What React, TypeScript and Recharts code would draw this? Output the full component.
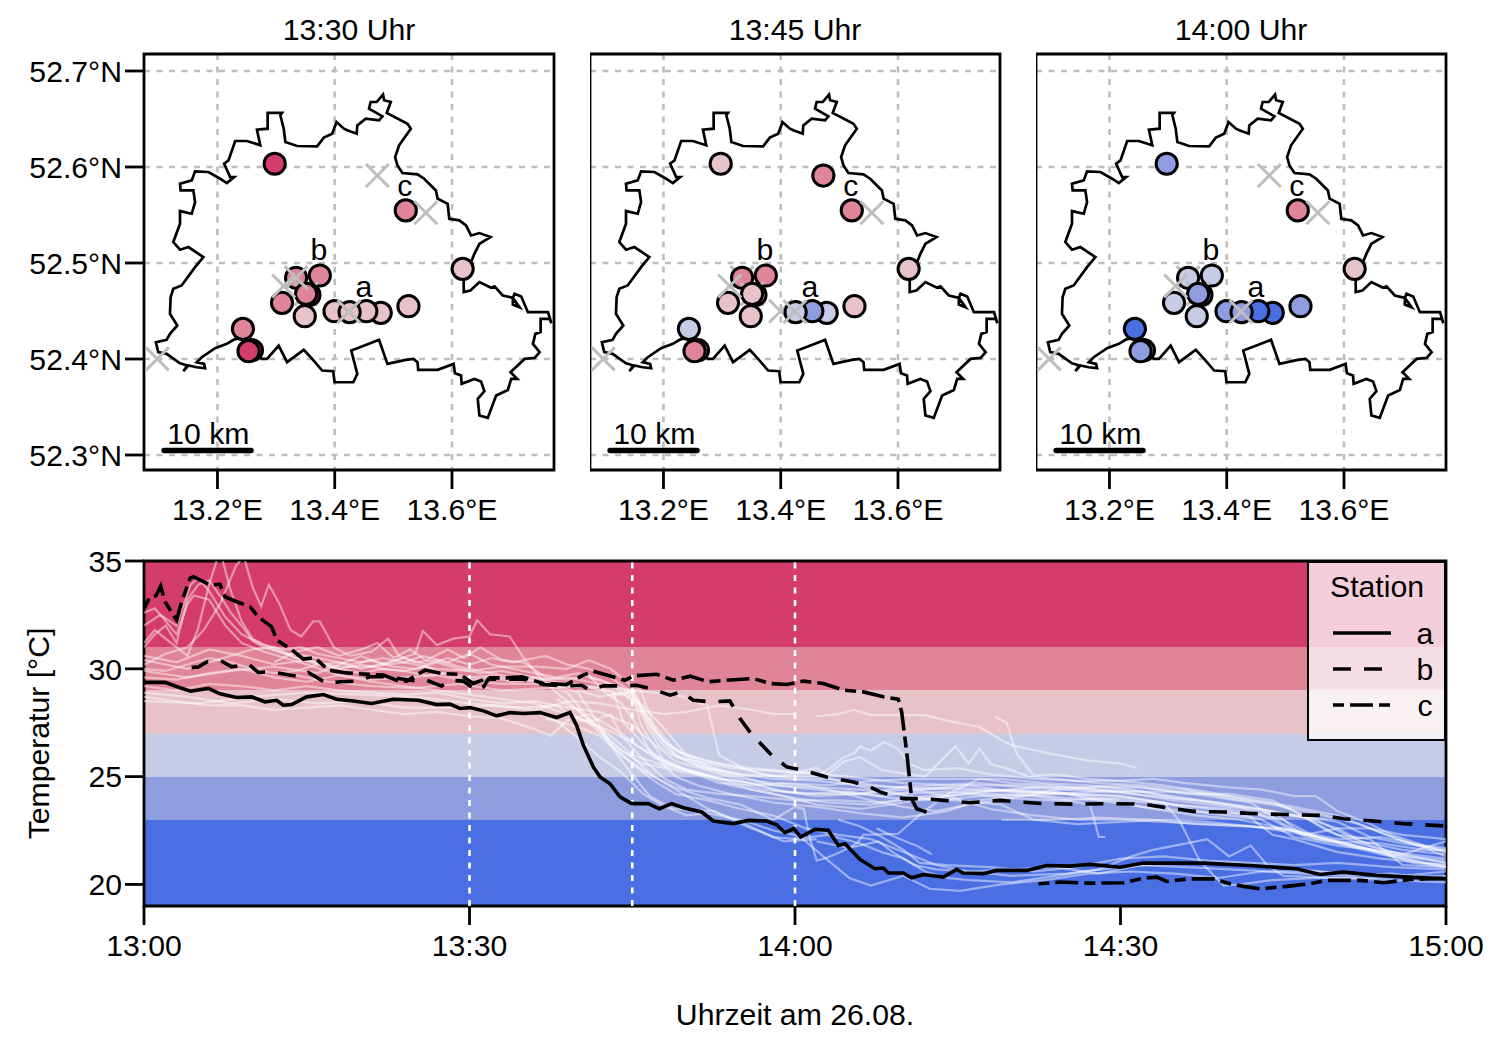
import React from "react"
import {
  CartesianGrid,
  ComposedChart,
  Legend,
  Line,
  ReferenceArea,
  ReferenceLine,
  Scatter,
  ScatterChart,
  XAxis,
  YAxis,
} from "recharts"

const fontFamily = '"Liberation Sans", Arial, sans-serif'
const fontSize = 30.2

// Temperature classes shown as background bands and used for station fill
const bands = [
  { from: 31, to: 35, color: "#D43D6B" },
  { from: 29, to: 31, color: "#E08497" },
  { from: 27, to: 29, color: "#E7C3C9" },
  { from: 25, to: 27, color: "#C7CCE6" },
  { from: 23, to: 25, color: "#8E9CE0" },
  { from: 19, to: 23, color: "#4A6FE3" },
]

const lonTicks = [13.2, 13.4, 13.6]
const latTicks = [52.3, 52.4, 52.5, 52.6, 52.7]
const lonDomain = [13.0747, 13.774]
const latDomain = [52.2844, 52.7177]

const borderLon = [
  13.1418, 13.1504, 13.1646, 13.1789, 13.1772, 13.1646, 13.1732, 13.196, 13.216, 13.2274, 13.2388, 13.2559, 13.2759,
  13.2844, 13.3044, 13.3187, 13.3472, 13.3615, 13.3786, 13.3974, 13.3997, 13.4317, 13.4385, 13.4282, 13.4585, 13.4756,
  13.4899, 13.5212, 13.5344, 13.5412, 13.5424, 13.5755, 13.6028, 13.6051, 13.6154, 13.6165, 13.6382, 13.6496, 13.6553,
  13.6439, 13.6468, 13.661, 13.6753, 13.6953, 13.701, 13.7113, 13.6998, 13.7238, 13.7409, 13.7495, 13.7381, 13.7421,
  13.7512, 13.7512, 13.7666, 13.7695, 13.7638, 13.7295, 13.7181, 13.7067, 13.7038, 13.7152, 13.7038, 13.7038, 13.6867,
  13.6725, 13.6667, 13.6468, 13.6314, 13.62, 13.62, 13.6382, 13.6468, 13.6656, 13.6468, 13.6325, 13.624, 13.6125,
  13.5954, 13.5926, 13.5755, 13.5726, 13.5526, 13.5412, 13.5155, 13.507, 13.503, 13.5098, 13.5298, 13.5241, 13.4887,
  13.4956, 13.4842, 13.4824, 13.4716, 13.4613, 13.4585, 13.4813, 13.4756, 13.4528, 13.4385, 13.4374, 13.4214, 13.4157,
  13.4031, 13.3957, 13.3814, 13.37, 13.3358, 13.3158, 13.313, 13.3073, 13.3101, 13.2856, 13.2856, 13.2673, 13.273,
  13.2502, 13.2302, 13.2188, 13.2114, 13.2217, 13.2285, 13.216, 13.2046, 13.1846, 13.1618, 13.1561, 13.1361, 13.1372,
  13.1589, 13.1618, 13.1561, 13.1361, 13.1361, 13.1247, 13.1361, 13.1504, 13.176, 13.1618, 13.1389, 13.1247, 13.1201,
  13.119, 13.1315, 13.119, 13.1133, 13.095, 13.099, 13.1133, 13.1361, 13.1486, 13.1418,
]
const borderLat = [
  52.3873, 52.3932, 52.3914, 52.3904, 52.3949, 52.3967, 52.4019, 52.4113, 52.4158, 52.42, 52.422, 52.4088, 52.4001,
  52.4001, 52.414, 52.3967, 52.4095, 52.4001, 52.388, 52.3873, 52.3758, 52.3758, 52.3845, 52.4088, 52.4158, 52.42,
  52.3949, 52.3991, 52.4001, 52.3967, 52.3887, 52.3887, 52.3949, 52.3852, 52.3828, 52.3741, 52.3793, 52.3765, 52.3665,
  52.3585, 52.3411, 52.3387, 52.3619, 52.3678, 52.3793, 52.3793, 52.3863, 52.4001, 52.4012, 52.4071, 52.4158, 52.4262,
  52.428, 52.4419, 52.4419, 52.4373, 52.4488, 52.4488, 52.4651, 52.4679, 52.4637, 52.454, 52.4568, 52.4637, 52.4662,
  52.4756, 52.4742, 52.4801, 52.4714, 52.4697, 52.4818, 52.5096, 52.52, 52.527, 52.5312, 52.5287, 52.5392, 52.5444,
  52.5461, 52.5617, 52.567, 52.5756, 52.5878, 52.5923, 52.5937, 52.6017, 52.6104, 52.6226, 52.6399, 52.6451, 52.6563,
  52.6677, 52.6695, 52.6754, 52.6677, 52.6677, 52.6608, 52.6528, 52.6486, 52.6504, 52.6434, 52.6347, 52.6382, 52.6399,
  52.6469, 52.6347, 52.6306, 52.6215, 52.6219, 52.626, 52.6399, 52.6538, 52.6563, 52.6563, 52.6399, 52.6389, 52.6226,
  52.6271, 52.6271, 52.6069, 52.6034, 52.5895, 52.5895, 52.5833, 52.5878, 52.5948, 52.5955, 52.5861, 52.5826, 52.5756,
  52.5756, 52.5635, 52.5513, 52.5541, 52.5409, 52.5218, 52.5138, 52.5166, 52.5061, 52.4957, 52.4766, 52.4731, 52.4644,
  52.4471, 52.4349, 52.4262, 52.42, 52.4175, 52.4071, 52.4054, 52.3956, 52.3932, 52.3873,
]

// Stations in drawing order. null = no reading (grey cross), undefined = not drawn in that panel
const __ = undefined
const stationLon = [
  13.2976, 13.4727, 13.5212, 13.5555, 13.6182, 13.0973, 13.3341, 13.3341, 13.3746, 13.3512, 13.3569, 13.3512, 13.3101,
  13.3489, 13.4785, 13.4539, 13.3997, 13.4254, 13.4242, 13.5258, 13.2434, 13.2588, 13.253, 13.313, 13.3341,
]
const stationLat = [
  52.6034, 52.5911, 52.5548, 52.5523, 52.4939, 52.4001, 52.4848, 52.4846, 52.487, 52.4679, 52.4668, 52.4679, 52.4585,
  52.4446, 52.4481, 52.4498, 52.4498, 52.4488, 52.4494, 52.455, 52.4314, 52.4092, 52.4082, 52.4761, 52.4848,
]
const temps1330 = [32, null, 30, null, 28, null, __, 30, 30, null, 32, 30, 30, 28, 28, 28, 28, 28, null, 28, 30, 32, 32, null, null]
const temps1345 = [28, 30, 30, null, 28, null, null, 30, 30, null, 28, 28, 28, 28, 26, 24, null, 26, null, 28, 26, 30, 30, null, __]
const temps1400 = [24, null, 30, null, 28, null, null, 26, 26, null, 24, 24, 26, 26, 21, 21, 24, 24, null, 24, 21, 24, 24, null, __]

const stationLetters = ["a", "b", "c"]
const letterLon = [13.4498, 13.3731, 13.5197]
const letterLat = [52.4756, 52.5142, 52.5808]

const scaleLon = [13.109, 13.2572]
const scaleLat = [52.3046, 52.3046]
const scaleLabel = "10 km"
const scaleLabelLon = 13.1846
const scaleLabelLat = 52.3219

const timeTicks = [0, 30, 60, 90, 120]
const tempTicks = [20, 25, 30, 35]
const mapTimes = [30, 45, 60]

const stationA = [
  [0, 29.37], [1.94, 29.37], [3.32, 29.12], [4.3, 28.96], [5.93, 29.09], [7, 28.84], [8.54, 28.67], [9.92, 28.7], [11.15, 28.47],
  [12.23, 28.54], [12.84, 28.31], [13.61, 28.34], [14.99, 28.7], [16.53, 28.81], [17.76, 28.59], [19.29, 28.51], [20.98, 28.39],
  [22.98, 28.59], [25.28, 28.54], [26.97, 28.34], [28.2, 28.36], [29.12, 28.16], [30.05, 28.2], [31.28, 28.05], [32.5, 27.82],
  [33.73, 27.97], [34.96, 27.93], [36.5, 27.97], [38.03, 27.74], [39.26, 27.97], [39.87, 27.38], [40.49, 26.46], [41.41, 25.45],
  [42.03, 24.98], [42.95, 24.67], [43.87, 24.06], [44.94, 23.75], [46.48, 23.75], [47.49, 23.51], [48.63, 23.75], [49.71, 23.56],
  [51.4, 23.36], [52.47, 22.94], [54.31, 22.82], [55.7, 22.97], [57.39, 22.94], [58.31, 22.77], [59.08, 22.4], [59.9, 22.59],
  [60.52, 22.2], [61.84, 22.55], [63.07, 22.51], [63.99, 21.81], [64.61, 21.89], [65.99, 21.16], [67.37, 20.73], [68.14, 20.76],
  [68.6, 20.53], [69.98, 20.53], [70.75, 20.31], [71.83, 20.46], [73.67, 20.34], [74.9, 20.7], [75.51, 20.53], [77.36, 20.5],
  [78.58, 20.65], [81.36, 20.65], [83.2, 20.88], [85.35, 20.85], [87.2, 20.93], [89.96, 20.8], [92.1, 20.99], [97.64, 20.99],
  [101.94, 20.88], [106.24, 20.73], [108.39, 20.46], [110.54, 20.57], [113.6, 20.42], [116.7, 20.34], [120, 20.26],
]
const stationB = [
  [4.39, 30.06], [5.01, 30.09], [5.84, 30.33], [7, 30.4], [8.08, 30.09], [9.62, 30.22], [10.54, 29.83], [11.61, 29.86], [13.15, 29.74],
  [14.38, 29.63], [15.15, 29.83], [16.84, 29.32], [18.07, 29.4], [19.6, 29.43], [20.83, 29.63], [22.37, 29.63], [25.13, 29.43],
  [26.05, 29.47], [27.43, 29.2], [28.2, 29.47], [29.43, 29.43], [30.66, 28.98], [31.28, 29.16], [31.74, 29.52], [34.96, 29.52],
  [36.8, 29.27], [38.95, 29.21], [40.33, 29.24], [41.1, 29.01], [42.33, 29.21], [44.48, 29.21], [45.4, 29.24], [46.94, 29.04],
  [48.48, 28.78], [49.55, 28.93], [50.63, 28.54], [52.16, 28.47], [54, 28.51], [54.93, 27.69], [55.85, 27.07], [57.69, 26.07],
  [59.23, 25.45], [60.77, 25.29], [62.92, 24.98], [65.37, 24.75], [66.91, 24.52], [67.98, 24.26], [69.98, 23.98], [71.83, 23.98],
  [73.67, 23.9], [76.13, 23.79], [78.89, 23.9], [80.73, 23.82], [82.89, 23.75], [85.96, 23.72], [89.04, 23.75], [92.11, 23.72],
  [94.26, 23.56], [96.72, 23.39], [99.48, 23.36], [102.55, 23.28], [105.32, 23.24], [108.7, 23.2], [110.54, 23.05], [113.6, 22.93],
  [116.07, 22.82], [120, 22.71],
]
const stationC = [
  [0, 32.8], [0.55, 33.34], [1.11, 33.39], [1.54, 33.84], [1.94, 33.11], [3.01, 32.26], [3.47, 33.11], [4.24, 34.2], [4.55, 34.27],
  [6.08, 33.89], [7, 33.92], [7.47, 33.34], [8.54, 33.11], [9.77, 32.88], [10.54, 32.41], [11.77, 31.95], [12.23, 31.33], [13.46, 30.94],
  [14.69, 30.45], [15.76, 30.51], [16.99, 29.94], [18.68, 29.81], [20.83, 29.74], [22.06, 29.71], [23.29, 29.47], [24.21, 29.43],
  [25.9, 29.94], [27.43, 29.78], [29.12, 29.74], [30.35, 29.32], [31.74, 29.58], [33.43, 29.58], [34.81, 29.63], [36.8, 29.32],
  [38.95, 29.27], [40.33, 29.67], [41.41, 29.89], [42.95, 29.67], [44.33, 29.47], [45.1, 29.67], [47.25, 29.75], [48.78, 29.47],
  [50.32, 29.66], [52.01, 29.4], [53.7, 29.47], [56.16, 29.55], [57.69, 29.32], [59.23, 29.27], [60.77, 29.43], [62.61, 29.32],
  [64.45, 29.01], [66.3, 28.93], [68.14, 28.7], [69.52, 28.59], [69.83, 28], [70.29, 26.15], [70.75, 23.98], [71.21, 23.51], [72.13, 23.36],
  [77, null],
  [82.43, 20.03], [84.43, 20.11], [87.2, 20.06], [90.27, 20.08], [92.1, 20.29], [93.34, 20.34], [94.26, 20.14], [96.41, 20.26],
  [98.56, 20.26], [100.1, 20.03], [101.33, 19.91], [102.86, 19.8], [105.32, 19.91], [107.47, 20.03], [109, 20.19], [112.08, 20.19],
  [114.23, 20.08], [116.69, 20.23], [120, 20.29],
]

const pale01 = [[0,31.0],[1,31.6],[2,32.0],[3,31.2],[4,33.2],[5,33.9],[6,34.1],[7,33.4],[8,32.6],[9,32.0],[10,31.3],[11,31.0],[13,30.7],[15,30.6],[17,30.4],[19,30.2],[21,30.4],[23,30.1],[25,30.0],[27,30.3],[29,30.0],[31,29.8],[33,29.9],[35,29.7],[37,29.5],[39,29.6],[41,29.4],[43,29.2],[45,29.0],[46,27.9],[47,27.0],[48,26.4],[49,26.0],[50,25.7],[52,25.4],[55,25.1],[58,24.9],[62,24.8],[66,24.6],[70,24.5],[75,24.4],[80,24.3],[85,24.2],[90,24.1],[95,23.7],[100,23.4],[103,23.0],[106,22.2],[110,21.8],[115,21.5],[120,21.2]]
const pale02 = [[0,31.2],[1,31.8],[2,31.4],[3,31.0],[4,30.6],[5,31.9],[6,33.9],[7,35.5],[8,33.6],[9,32.2],[10,31.4],[12,30.9],[14,30.5],[16,30.3],[18,30.0],[20,30.2],[22,30.0],[24,29.9],[26,30.1],[28,29.7],[30,29.5],[32,29.6],[34,29.4],[36,29.5],[38,29.2],[40,28.9],[42,27.4],[43,26.5],[45,25.6],[47,24.8],[49,24.2],[52,23.9],[55,23.5],[58,23.2],[61,22.6],[64,22.3],[67,22.1],[70,21.5],[73,20.9],[76,20.6],[80,20.4],[85,20.5],[90,20.8],[95,21.0],[100,21.0],[105,20.8],[110,20.5],[115,20.4],[120,20.3]]
const pale03 = [[0,30.2],[2,30.7],[4,31.0],[5.5,31.8],[7,33.0],[8.5,34.8],[9.2,35.2],[10,33.8],[10.8,32.9],[11.5,33.9],[12.5,33.0],[13.5,31.8],[14.5,31.5],[15.6,32.2],[16.2,32.2],[17.5,31.0],[19,30.6],[21,30.8],[22.5,31.4],[23.5,30.6],[25,30.3],[27,30.4],[29,30.1],[31,29.9],[33,29.7],[35,29.5],[37,29.3],[39,28.9],[40.5,28.0],[42,27.2],[44,26.2],[46,25.6],[49,25.3],[52,25.0],[56,24.7],[60,24.5],[64,24.3],[68,24.1],[72,24.4],[76,24.6],[80,24.3],[85,24.2],[90,23.9],[95,23.7],[100,23.5],[105,23.0],[108,22.2],[112,21.7],[116,21.3],[120,21.0]]
const pale04 = [[0,32.0],[1.5,32.5],[3,32.0],[4.3,33.9],[5,34.2],[6,33.6],[7.5,32.4],[9,31.6],[11,31.1],[13,30.9],[14.5,31.0],[16,30.7],[18,30.5],[20,30.3],[22,30.5],[24,30.3],[25.7,30.6],[28,30.3],[30,30.7],[32,30.2],[34,30.0],[36,29.8],[38,29.6],[40,29.8],[42,29.5],[44,29.1],[45.5,28.6],[46.5,27.5],[48,26.6],[50,26.0],[53,25.6],[56,25.4],[60,25.2],[65,25.0],[70,24.7],[75,24.6],[80,24.6],[85,24.5],[90,24.3],[95,23.9],[100,23.6],[105,23.3],[110,22.9],[113,22.2],[116,21.9],[120,21.6]]
const pale05 = [[0,30.4],[2,30.2],[4,30.0],[6,30.3],[8,30.6],[10,30.9],[12,31.0],[14,30.5],[16,30.2],[18,30.3],[20,30.0],[22.5,30.3],[25,30.7],[25.7,31.75],[27,31.1],[28.5,31.4],[30,31.5],[30.7,32.25],[31.9,31.6],[33.7,31.5],[35,30.5],[36.5,29.6],[38,28.9],[39.5,28.3],[41,27.6],[43,26.9],[45,26.0],[48,25.5],[51,25.2],[54,24.8],[57,24.4],[61,24.2],[65,24.3],[69,24.0],[73,23.9],[77,24.1],[81,24.2],[85,24.0],[89,23.9],[93,23.5],[97,23.2],[101,23.0],[105,22.6],[109,22.1],[113,21.6],[117,21.0],[120,20.8]]
const pale06 = [[0,28.9],[4,28.7],[8,28.4],[12,28.6],[16,28.4],[20,28.5],[24,28.2],[28,28.2],[32,28.3],[36,28.1],[39.3,28.5],[42,28.4],[45,28.1],[48,27.9],[50,28.0],[53,28.3],[56,28.1],[58,27.9],[60,27.9],[60.5,null],[62,27.8],[64,27.9],[65.4,28.1],[67,27.85],[72,27.85],[74,27.6],[77,27.3],[79,26.7],[80,26.45],[83.5,26.07],[86.9,25.75],[90,25.6],[91.5,25.4]]
const pale07 = [[0,28.7],[3,28.5],[6,28.3],[9,28.3],[12,28.1],[15,28.2],[18,28.3],[21,28.1],[24,27.9],[27,28.0],[30,27.8],[33,27.7],[36,27.2],[37.5,26.9],[39,27.6],[41,27.9],[42,27.6],[44,27.0],[45.5,26.4],[47.5,25.9],[50,25.3],[53,24.9],[56,24.4],[60,24.0],[63,23.8],[67,23.7],[71,24.0],[75,23.9],[79,23.7],[82,23.0],[86,22.8],[90,22.9],[94,23.0],[98,22.9],[102,22.7],[106,22.4],[110,22.0],[114,21.5],[118,21.0],[120,20.8]]
const pale08 = [[38,28.6],[40,28.1],[42,27.2],[43.2,26.3],[45,25.1],[46.6,24.1],[48.8,23.5],[52.5,23.4],[55.5,22.7],[59,22.0],[62,22.1]]
const pale09 = [[0,29.6],[3,29.5],[6,29.8],[9,30.0],[12,29.6],[15,29.4],[18,29.7],[21,29.5],[24,29.6],[27,29.7],[30,29.4],[33,29.3],[36,29.3],[39,29.2],[42,29.1],[44,28.8],[45.7,29.1],[47.2,27.1],[49,26.0],[51.5,25.4],[55.2,25.1],[59,25.0],[62,25.0],[63.5,25.5],[64.5,25.9],[65.5,26.1],[66,26.4],[67,26.2],[68.2,26.6],[69.5,26.3],[70.5,25.6],[72,25.3],[75,25.4],[78,25.1],[82,24.9],[86,24.8],[90,24.8],[94,24.6],[98,24.3],[102,23.9],[106,23.6],[110,23.2],[114,22.4],[118,21.7],[120,21.3]]
const pale10 = [[0,30.0],[2,29.9],[4,30.2],[6,30.5],[8,30.3],[10,30.0],[12,29.8],[14,29.9],[16,30.2],[18,30.0],[20,29.8],[22,30.0],[24,29.9],[26,29.7],[28,29.8],[30,29.6],[32,29.7],[34,29.5],[36,29.6],[38,29.4],[40,29.3],[42,29.0],[43.2,29.0],[44.2,27.5],[45.5,26.8],[47,26.0],[49,25.0],[51,24.6],[54,24.2],[58,23.8],[62,23.6],[66,23.3],[70,23.1],[74,23.4],[77,23.9],[80,24.1],[84,24.2],[88,24.3],[92,24.3],[96,24.0],[100,23.7],[104,23.4],[106,22.6],[108,22.1],[111,21.9],[115,21.4],[120,21.1]]
const pale11 = [[13,29.8],[17,29.4],[21,29.2],[25,29.1],[29,29.3],[33,29.0],[37,29.1],[41,29.2],[45,29.0],[49,28.8],[51.9,28.3],[53,26.0],[55.2,25.4],[57,25.1],[60,24.9],[63,24.9],[66,24.7],[69,24.5],[73,24.6],[77,24.7],[81,24.5],[85,24.4],[89,24.3],[93,24.1],[97,23.9],[101,23.6],[104,23.0],[107,22.2],[110,21.9],[114,21.4],[118,21.0],[120,20.9]]
const pale12 = [[41,29.6],[43,29.3],[44.5,28.7],[45.5,28.3],[46.5,27.2],[47.5,26.4],[49,25.9],[51,25.7],[54,25.4],[57,25.3],[60,25.2],[62,25.4],[63,25.1],[64.5,25.7],[66,25.9],[68,25.3],[72,25.0],[73,25.5],[74,26.0],[74.8,26.4],[76,25.6],[77,26.3],[78,25.6],[80,25.3],[81.5,25.0],[84,24.9],[88,24.7],[92,24.6],[96,24.4],[100,24.0],[104,23.7],[108,23.3],[112,22.8],[116,22.0],[120,21.5]]
const pale13 = [[39,28.0],[41,27.5],[43,26.6],[45,25.9],[47,25.0],[49,24.5],[52,24.0],[55,23.7],[58,23.0],[60,23.6],[60.8,23.5],[61.4,22.1],[62,21.1],[63,21.25],[64.2,21.5],[65.7,21.9],[66.3,22.3],[69.5,22.35],[71.8,23.35],[74.1,24.2],[77,24.9],[80,24.7],[84,24.6],[88,24.4],[92,24.3],[96,24.3],[100,24.1],[104,23.8],[108,23.0],[112,22.0],[116,21.6],[120,21.4]]
const pale14 = [[36,28.0],[38,27.6],[40,26.8],[42,25.9],[44,25.2],[46,24.2],[48,23.6],[50,23.2],[52,23.3],[55,23.0],[58,22.5],[60,22.3],[61,22.0],[62.6,21.3],[65,20.3],[67,19.95],[70,20.4],[72.4,19.8],[75.2,19.7],[79,20.0],[83,20.2],[87,20.5],[91,20.6],[95,20.5],[99,20.3],[103,20.6],[107,20.5],[111,20.4],[115,20.5],[120,20.2]]
const pale15 = [[67.5,22.6],[69.7,22.1],[71.2,21.8],[72.6,21.4]]
const pale16 = [[37,27.7],[40,27.3],[42,26.9],[44,26.0],[46,25.3],[49,24.4],[52,23.5],[55,22.9],[58,22.2],[60,22.1],[63,22.3],[66,21.9],[68,21.5],[70,21.2],[72,20.6],[74,20.3],[76,20.2],[80,20.1],[84,20.4],[88,20.7],[91,21.3],[93,21.6],[97,22.0],[98,22.1],[100,21.3],[102,21.8],[103.5,20.9],[105,20.4],[110,20.3],[115,20.2],[120,20.1]]
const pale17 = [[40,29.0],[42,28.7],[44,28.9],[46,28.3],[48,27.2],[50,26.0],[52,25.5],[55,25.0],[58,24.6],[62,24.5],[66,24.4],[70,24.2],[74,24.3],[78,24.2],[82,24.1],[85,23.9],[87.2,23.7],[88,22.2],[88.6,22.2]]
const pale18 = [[78.4,27.8],[79.5,27.5],[80.4,26.1],[82,25.06],[84,25.1],[87,24.9],[90,24.8],[93,24.9],[96,24.7],[100,24.5],[103,24.4],[106,24.1],[108,24.1],[110,23.4],[113,22.8],[115,22.3],[118,21.8],[120,21.5]]
const pale19 = [[0,30.6],[3,30.3],[6,30.9],[9,30.6],[12,30.2],[15,30.4],[18,30.1],[21,30.1],[24,30.3],[27,30.0],[30,29.9],[33,30.1],[36,30.1],[39,30.0],[41,30.4],[43,30.0],[45,29.2],[46,28.0],[47,27.4],[49,26.2],[52,25.7],[55,25.4],[58,25.0],[61,25.2],[64,24.8],[68,24.3],[72,24.0],[76,24.2],[80,24.0],[84,23.9],[90,24.0],[94,23.8],[95.5,22.9],[97.3,21.1],[99.5,19.95],[101,20.0],[104,20.2],[108,20.3],[113,20.3],[120,20.4]]
const pale20 = [[0,32.6],[1,32.8],[2,32.2],[3,31.6],[4,33.0],[4.6,33.4],[6,33.2],[7.5,32.0],[9,31.2],[11,30.8],[13,30.5],[15,30.2],[18,29.7],[21,29.4],[24,29.2],[27,29.0],[30,28.8],[33,28.6],[36,28.4],[39,27.9],[41,27.5],[43,27.1],[45,26.6],[47,25.9],[50,25.3],[53,24.9],[56,24.7],[59,24.3],[62,24.2],[66,24.2],[70,24.5],[74,24.1],[78,23.5],[82,23.2],[86,23.0],[90,23.0],[94,22.9],[98,22.8],[102,22.7],[106,22.5],[110,22.1],[114,22.2],[118,21.8],[120,21.7]]
const pale21 = [[62,22.0],[65,21.7],[67.7,22.0],[69,21.5],[71,20.9],[73,20.7],[76,20.6],[80,20.7],[84,20.8],[88,20.5],[92,20.9],[96,20.8],[100,20.7],[104,20.6],[108,20.6],[112,20.5],[116,20.4],[120,20.6]]
const pale22 = [[64,23.0],[66,22.7],[68,22.2],[70,21.6],[71.5,21.0],[74,20.9],[78,20.8],[82,20.6],[86,20.8],[90,21.2],[94,21.3],[98,21.1],[102,21.0],[106,20.9],[110,21.0],[115,20.8],[120,20.7]]
const pale23 = [[0,29.2],[3,29.0],[6,29.3],[9,29.2],[12,29.0],[15,29.2],[18,29.0],[21,28.9],[24,28.8],[27,28.9],[30,28.6],[33,28.4],[36,28.5],[39,28.2],[42,28.0],[45,27.4],[47,26.5],[49,25.7],[52,25.3],[55,24.8],[58,24.4],[62,24.1],[66,24.2],[70,24.4],[74,24.5],[78,24.4],[82,24.3],[86,24.2],[90,24.1],[94,23.8],[98,23.3],[102,23.1],[104,22.3],[106,22.1],[110,21.5],[114,21.2],[118,21.0],[120,20.9]]
const pale24 = [[79,23.0],[84,23.0],[88,23.1],[93,23.0],[97,22.8],[101,22.7],[105,22.6],[110,22.0],[114,21.9],[118,21.6],[120,21.6]]
const pale25 = [[43,28.7],[44.5,28.9],[46,28.2],[47,27.2],[48,26.6],[50,25.9],[52,25.4],[55,24.9],[58,24.7],[61,24.6],[64,24.3],[67,23.9],[70,23.6],[73,23.4],[76,23.7],[80,24.0],[84,24.4],[88,24.5],[92,24.5],[96,24.2],[100,24.2],[104,23.9],[106,23.4],[109,22.5],[112,21.9],[115,21.5],[120,21.0]]
const pale26 = [[12,30.3],[14,30.8],[16,31.0],[18,30.6],[20,30.9],[21.5,31.2],[23,30.5],[24.5,30.9],[26,30.4],[28,30.9],[29.5,30.5],[31,31.0],[33,30.4],[35,30.3],[37,29.6],[39,29.5],[41,29.7],[42.5,28.9],[44,28.4],[45.3,27.5],[46.5,26.3],[48,25.6],[51,25.2],[54,24.6],[58,24.2],[62,23.7],[66,23.5],[70,23.8],[74,24.1],[78,24.3],[82,24.5],[86,24.5],[90,24.6],[94,24.4],[98,24.1],[102,23.8],[105,22.8],[107,22.3],[110,22.6],[113,21.8],[116,21.4],[120,22.0]]
const pale27 = [[0,29.9],[4,29.6],[8,29.9],[12,30.1],[16,29.8],[20,30.6],[22,30.2],[24,30.5],[26,30.2],[28,30.5],[30,30.2],[32,30.5],[34,30.3],[36,30.5],[37,30.6],[39,30.2],[41,30.0],[43,29.6],[45,28.9],[45.8,27.4],[46.8,26.6],[48,25.7],[50,25.3],[53,24.7],[56,24.6],[59,24.7],[63,24.6],[67,24.8],[71,24.9],[75,24.9],[79,24.9],[83,24.7],[87,24.6],[91,24.4],[95,24.0],[99,23.8],[103,23.5],[107,23.1],[110,22.6],[113,22.6],[116,22.3],[120,22.1]]
const pale28 = [[0,28.5],[5,28.4],[10,28.7],[15,28.9],[20,28.8],[25,28.7],[30,28.4],[35,28.2],[38,28.3],[40,27.6],[41.5,27.6],[43,27.9],[44,26.9],[46,25.8],[48,24.9],[50,24.4],[53,24.2],[56,24.1],[60,23.9],[64,23.9],[68,23.8],[72,24.1],[76,24.3],[80,24.4],[84,24.3],[88,23.9],[92,23.6],[96,23.4],[100,23.3],[104,23.3],[107,23.1],[110,22.3],[113,22.1],[116,20.9],[120,20.8]]
const paleTraces = [
  pale01, pale02, pale03, pale04, pale05, pale06, pale07, pale08, pale09, pale10, pale11, pale12, pale13, pale14,
  pale15, pale16, pale17, pale18, pale19, pale20, pale21, pale22, pale23, pale24, pale25, pale26, pale27, pale28,
]

const toRows = (pairs: (number | null)[][]) => pairs.map(([t, temp]) => ({ t, temp }))

const borderRows = borderLon.map((lon, i) => ({ lon, lat: borderLat[i] }))
const scaleRows = scaleLon.map((lon, i) => ({ lon, lat: scaleLat[i] }))
const letterRows = stationLetters.map((text, i) => ({ lon: letterLon[i], lat: letterLat[i], text }))

const blackSeries = [
  { name: "a", rows: toRows(stationA), dash: undefined },
  { name: "b", rows: toRows(stationB), dash: "18 13" },
  { name: "c", rows: toRows(stationC), dash: "11 6 23 6" },
]

const bandColor = (temp: number) => bands.find((b) => temp >= b.from && temp < b.to)?.color

const StationMark = (props: any) => {
  const { cx, cy, payload } = props
  if (payload.temp === null) {
    const r = 11.5
    return (
      <path
        d={`M${cx - r} ${cy - r}L${cx + r} ${cy + r}M${cx - r} ${cy + r}L${cx + r} ${cy - r}`}
        stroke="#BEBEBE"
        strokeWidth={3}
      />
    )
  }
  return <circle cx={cx} cy={cy} r={10.6} fill={bandColor(payload.temp)} stroke="#000" strokeWidth={3} />
}

const TextMark = (props: any) => (
  <text x={props.cx} y={props.cy} textAnchor="middle" dominantBaseline="central" fontSize={fontSize} fill="#000">
    {props.payload.text}
  </text>
)

const NoMark = () => null

function MapPanel({ title, temps, left, withLat }: { title: string; temps: any[]; left: number; withLat: boolean }) {
  const rows = stationLon
    .map((lon, i) => ({ lon, lat: stationLat[i], temp: temps[i] }))
    .filter((r) => r.temp !== undefined)
  const axisWidth = withLat ? 144 : 0
  return (
    <div style={{ position: "absolute", left: left - axisWidth, top: 0 }}>
      <div
        style={{
          position: "absolute",
          left: axisWidth,
          width: 410,
          top: 13,
          textAlign: "center",
          fontSize,
          lineHeight: "34px",
          fontFamily,
          color: "#000",
        }}
      >
        {title}
      </div>
      <ScatterChart
        width={axisWidth + 440}
        height={540}
        margin={{ top: 54, right: 30, bottom: 0, left: 0 }}
        style={{ fontFamily }}
      >
        <CartesianGrid
          horizontalValues={latTicks}
          verticalValues={lonTicks}
          stroke="#BEBEBE"
          strokeWidth={2.6}
          strokeDasharray="6 6.5"
        />
        <XAxis
          type="number"
          dataKey="lon"
          domain={lonDomain}
          allowDataOverflow
          ticks={lonTicks}
          interval={0}
          height={70}
          tickFormatter={(v) => `${v.toFixed(1)}°E`}
          axisLine={false}
          tickSize={19}
          tickMargin={10}
          tickLine={{ stroke: "#000", strokeWidth: 2.8 }}
          tick={{ fill: "#000", fontSize }}
        />
        <YAxis
          type="number"
          dataKey="lat"
          domain={latDomain}
          allowDataOverflow
          ticks={latTicks}
          interval={0}
          hide={!withLat}
          width={axisWidth}
          tickFormatter={(v) => `${v.toFixed(1)}°N`}
          axisLine={false}
          tickSize={19}
          tickMargin={3}
          tickLine={{ stroke: "#000", strokeWidth: 2.8 }}
          tick={{ fill: "#000", fontSize }}
        />
        <ReferenceArea
          x1={lonDomain[0]}
          x2={lonDomain[1]}
          y1={latDomain[0]}
          y2={latDomain[1]}
          fill="none"
          stroke="#000"
          strokeWidth={2.8}
        />
        <Scatter
          data={borderRows}
          line={{ stroke: "#000", strokeWidth: 2.7 }}
          lineJointType="linear"
          shape={NoMark}
          isAnimationActive={false}
        />
        <Scatter data={rows} shape={StationMark} isAnimationActive={false} />
        <Scatter data={letterRows} shape={TextMark} isAnimationActive={false} />
        <Scatter
          data={scaleRows}
          line={{ stroke: "#000", strokeWidth: 5.5, strokeLinecap: "round" }}
          lineJointType="linear"
          shape={NoMark}
          isAnimationActive={false}
        />
        <Scatter
          data={[{ lon: scaleLabelLon, lat: scaleLabelLat, text: scaleLabel }]}
          shape={TextMark}
          isAnimationActive={false}
        />
      </ScatterChart>
    </div>
  )
}

const StationLegend = () => (
  <div
    style={{
      position: "relative",
      width: 139,
      height: 180,
      boxSizing: "border-box",
      background: "rgba(255,255,255,0.75)",
      border: "2.8px solid #000",
      fontFamily,
      fontSize,
      color: "#000",
    }}
  >
    <svg width={139} height={180} style={{ position: "absolute", left: -2, top: -2 }}>
      <text x={23} y={36} fontSize={fontSize}>
        Station
      </text>
      {blackSeries.map((s, i) => (
        <g key={s.name}>
          <line x1={26} x2={84} y1={72 + i * 36} y2={72 + i * 36} stroke="#000" strokeWidth={3.6} strokeDasharray={s.dash} />
          <text x={118} y={72 + i * 36} textAnchor="middle" dominantBaseline="central" fontSize={fontSize}>
            {s.name}
          </text>
        </g>
      ))}
    </svg>
  </div>
)

function TemperatureChart() {
  return (
    <div style={{ position: "absolute", left: 0, top: 0 }}>
      <ComposedChart
        width={1500}
        height={1050}
        margin={{ top: 561, right: 54, bottom: 0, left: 0 }}
        style={{ fontFamily }}
      >
        <XAxis
          type="number"
          dataKey="t"
          domain={[0, 120]}
          allowDataOverflow
          ticks={timeTicks}
          interval={0}
          height={144}
          tickFormatter={(m) => `${13 + Math.floor(m / 60)}:${String(m % 60).padStart(2, "0")}`}
          axisLine={false}
          tickSize={19}
          tickMargin={10}
          tickLine={{ stroke: "#000", strokeWidth: 2.8 }}
          tick={{ fill: "#000", fontSize }}
          label={{ value: "Uhrzeit am 26.08.", position: "insideBottom", offset: 25, fill: "#000", fontSize }}
        />
        <YAxis
          type="number"
          dataKey="temp"
          domain={[19, 35]}
          allowDataOverflow
          ticks={tempTicks}
          interval={0}
          width={144}
          axisLine={false}
          tickSize={19}
          tickMargin={3}
          tickLine={{ stroke: "#000", strokeWidth: 2.8 }}
          tick={{ fill: "#000", fontSize }}
          label={{
            value: "Temperatur [°C]",
            angle: -90,
            position: "insideLeft",
            offset: 38,
            textAnchor: "middle",
            fill: "#000",
            fontSize,
          }}
        />
        {bands.map((b) => (
          <ReferenceArea
            key={b.from}
            y1={b.from}
            y2={b.to}
            x1={0}
            x2={120}
            fill={b.color}
            fillOpacity={1}
            stroke="none"
            shapeRendering="crispEdges"
          />
        ))}
        {mapTimes.map((m) => (
          <ReferenceLine key={m} x={m} stroke="#fff" strokeWidth={2.6} strokeDasharray="6 6.5" />
        ))}
        {paleTraces.map((trace, i) => (
          <Line
            key={i}
            data={toRows(trace)}
            dataKey="temp"
            stroke="#fff"
            strokeOpacity={0.45}
            strokeWidth={2.2}
            dot={false}
            activeDot={false}
            legendType="none"
            isAnimationActive={false}
          />
        ))}
        {blackSeries.map((s) => (
          <Line
            key={s.name}
            data={s.rows}
            dataKey="temp"
            name={s.name}
            stroke="#000"
            strokeWidth={3.6}
            strokeDasharray={s.dash}
            dot={false}
            activeDot={false}
            isAnimationActive={false}
          />
        ))}
        <ReferenceArea x1={0} x2={120} y1={19} y2={35} fill="none" stroke="#000" strokeWidth={2.8} />
        <Legend
          layout="vertical"
          align="center"
          verticalAlign="middle"
          content={StationLegend}
          wrapperStyle={{ left: 1307, top: 561, width: 139, height: 180 }}
        />
      </ComposedChart>
    </div>
  )
}

export default function App() {
  return (
    <div style={{ position: "absolute", left: 0, top: 0, width: 1500, height: 1050, background: "#fff" }}>
      <TemperatureChart />
      <MapPanel title="13:30 Uhr" temps={temps1330} left={144} withLat />
      <MapPanel title="13:45 Uhr" temps={temps1345} left={590} withLat={false} />
      <MapPanel title="14:00 Uhr" temps={temps1400} left={1036} withLat={false} />
    </div>
  )
}
